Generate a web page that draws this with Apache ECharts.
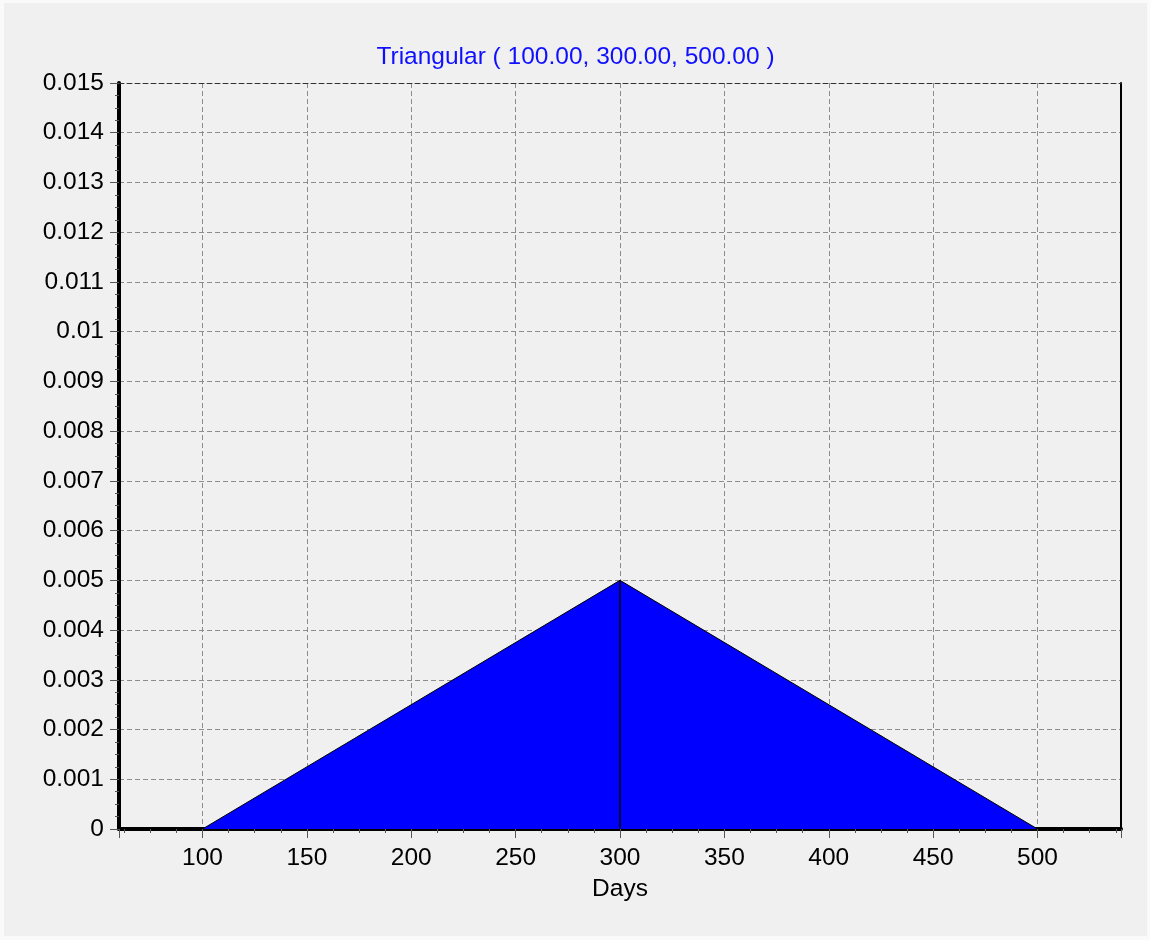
<!DOCTYPE html>
<html>
<head>
<meta charset="utf-8">
<title>Triangular distribution</title>
<script src="https://cdn.jsdelivr.net/npm/echarts@6/dist/echarts.min.js"></script>
<style>
  html, body { margin: 0; padding: 0; background: #fafafa; }
  #chart { position: absolute; left: 4px; top: 3px; width: 1143px; height: 933px; }
</style>
</head>
<body>
<div id="chart"></div>
<script>
// Triangular distribution: lower bound, mode, upper bound
const params = [100, 300, 500];
const peakDensity = [0.005];

// Density outline: rises from the lower bound to the mode, falls to the upper bound
const densityX = [100, 300, 500];
const densityY = [0, 0.005, 0];

// Axis ranges
const xRange = [60, 540];
const yRange = [0, 0.015];
const yStep = 0.001;

const titleText = 'Triangular ( ' + params.map(v => v.toFixed(2)).join(', ') + ' )';
const densityData = densityX.map((x, i) => [x, densityY[i]]);
const modeLine = [[params[1], 0], [params[1], peakDensity[0]]];

const FONT = "'Liberation Sans', Arial, sans-serif";
const TXT = '#000000';
const FS = 24.5;
const gridDash = { color: '#8c8c8c', width: 1, type: [5, 3] };

const chart = echarts.init(document.getElementById('chart'), null, { renderer: 'canvas' });
chart.setOption({
  backgroundColor: '#f0f0f0',
  animation: false,
  title: {
    text: titleText,
    left: 'center',
    top: 37,
    textStyle: { color: '#1010ff', fontSize: FS, fontWeight: 'normal', fontFamily: FONT }
  },
  grid: { left: 115, right: 26, top: 80, bottom: 107, containLabel: false },
  xAxis: [
    {
      type: 'value',
      min: xRange[0],
      max: xRange[1],
      splitNumber: 10,
      name: 'Days',
      nameLocation: 'middle',
      nameGap: 48,
      nameTextStyle: { color: TXT, fontSize: FS, fontFamily: FONT },
      axisLine: { show: true, onZero: false, lineStyle: { color: '#000', width: 4 } },
      axisTick: { show: true, length: 9, lineStyle: { color: '#555', width: 1 } },
      minorTick: { show: true, splitNumber: 4, length: 4, lineStyle: { color: '#555', width: 1 } },
      axisLabel: { color: TXT, fontSize: FS, fontFamily: FONT, margin: 17, showMinLabel: false, showMaxLabel: false },
      splitLine: { show: true, lineStyle: gridDash }
    },
    {
      type: 'value',
      position: 'top',
      min: xRange[0],
      max: xRange[1],
      splitNumber: 10,
      axisLine: { show: true, onZero: false, lineStyle: { color: '#333', width: 1, type: [5, 3] } },
      axisTick: { show: false },
      axisLabel: { show: false },
      splitLine: { show: false }
    }
  ],
  yAxis: [
    {
      type: 'value',
      min: yRange[0],
      max: yRange[1],
      interval: yStep,
      axisLine: { show: true, onZero: false, lineStyle: { color: '#000', width: 4 } },
      axisTick: { show: true, length: 9, lineStyle: { color: '#555', width: 1 } },
      minorTick: { show: true, splitNumber: 4, length: 4, lineStyle: { color: '#555', width: 1 } },
      axisLabel: { color: TXT, fontSize: FS, fontFamily: FONT, margin: 15 },
      splitLine: { show: true, lineStyle: gridDash }
    },
    {
      type: 'value',
      position: 'right',
      min: yRange[0],
      max: yRange[1],
      interval: yStep,
      axisLine: { show: true, onZero: false, lineStyle: { color: '#000', width: 2 } },
      axisTick: { show: false },
      axisLabel: { show: false },
      splitLine: { show: false }
    }
  ],
  series: [
    {
      name: 'density',
      type: 'line',
      xAxisIndex: 0,
      yAxisIndex: 0,
      data: densityData,
      symbol: 'none',
      lineStyle: { color: '#000', width: 1 },
      areaStyle: { color: '#0000ff', opacity: 1 },
      z: 3
    },
    {
      name: 'mode',
      type: 'line',
      xAxisIndex: 0,
      yAxisIndex: 0,
      data: modeLine,
      symbol: 'none',
      lineStyle: { color: '#000', width: 1.5 },
      z: 4
    }
  ]
});
</script>
</body>
</html>
